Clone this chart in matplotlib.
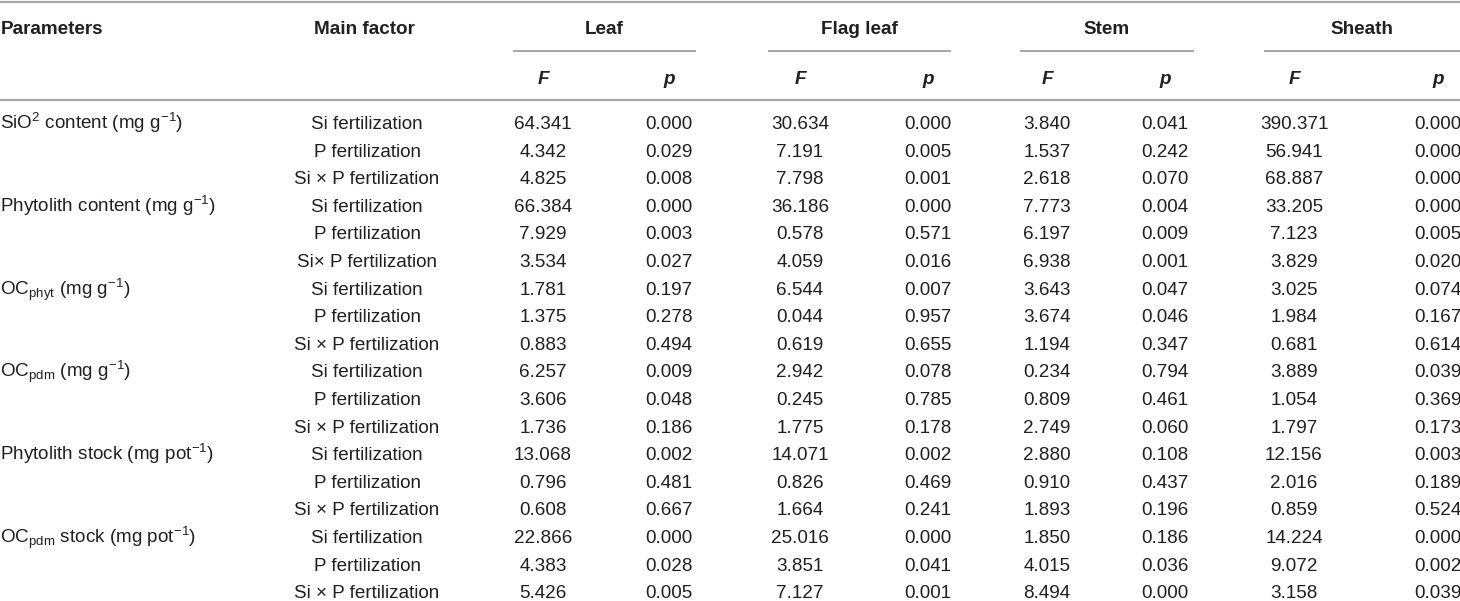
import matplotlib.pyplot as plt

plt.rcParams['font.family'] = ['Liberation Sans', 'DejaVu Sans']
plt.rcParams['mathtext.fontset'] = 'custom'
plt.rcParams['mathtext.rm'] = 'Liberation Sans'
plt.rcParams['mathtext.it'] = 'Liberation Sans:italic'
plt.rcParams['mathtext.bf'] = 'Liberation Sans:bold'

######################################## Table data ########################################
parameters = ["SiO$^{2}$ content (mg g$^{-1}$)",
              "Phytolith content (mg g$^{-1}$)",
              "OC$_{\\mathregular{phyt}}$ (mg g$^{-1}$)",
              "OC$_{\\mathregular{pdm}}$ (mg g$^{-1}$)",
              "Phytolith stock (mg pot$^{-1}$)",
              "OC$_{\\mathregular{pdm}}$ stock (mg pot$^{-1}$)"]

factors = ["Si fertilization", "P fertilization", "Si × P fertilization",
           "Si fertilization", "P fertilization", "Si× P fertilization",
           "Si fertilization", "P fertilization", "Si × P fertilization",
           "Si fertilization", "P fertilization", "Si × P fertilization",
           "Si fertilization", "P fertilization", "Si × P fertilization",
           "Si fertilization", "P fertilization", "Si × P fertilization"]

organs = ["Leaf", "Flag leaf", "Stem", "Sheath"]

leaf_F = [64.341, 4.342, 4.825, 66.384, 7.929, 3.534, 1.781, 1.375, 0.883,
          6.257, 3.606, 1.736, 13.068, 0.796, 0.608, 22.866, 4.383, 5.426]
leaf_p = [0.000, 0.029, 0.008, 0.000, 0.003, 0.027, 0.197, 0.278, 0.494,
          0.009, 0.048, 0.186, 0.002, 0.481, 0.667, 0.000, 0.028, 0.005]
flag_F = [30.634, 7.191, 7.798, 36.186, 0.578, 4.059, 6.544, 0.044, 0.619,
          2.942, 0.245, 1.775, 14.071, 0.826, 1.664, 25.016, 3.851, 7.127]
flag_p = [0.000, 0.005, 0.001, 0.000, 0.571, 0.016, 0.007, 0.957, 0.655,
          0.078, 0.785, 0.178, 0.002, 0.469, 0.241, 0.000, 0.041, 0.001]
stem_F = [3.840, 1.537, 2.618, 7.773, 6.197, 6.938, 3.643, 3.674, 1.194,
          0.234, 0.809, 2.749, 2.880, 0.910, 1.893, 1.850, 4.015, 8.494]
stem_p = [0.041, 0.242, 0.070, 0.004, 0.009, 0.001, 0.047, 0.046, 0.347,
          0.794, 0.461, 0.060, 0.108, 0.437, 0.196, 0.186, 0.036, 0.000]
sheath_F = [390.371, 56.941, 68.887, 33.205, 7.123, 3.829, 3.025, 1.984, 0.681,
            3.889, 1.054, 1.797, 12.156, 2.016, 0.859, 14.224, 9.072, 3.158]
sheath_p = [0.000, 0.000, 0.000, 0.000, 0.005, 0.020, 0.074, 0.167, 0.614,
            0.039, 0.369, 0.173, 0.003, 0.189, 0.524, 0.000, 0.002, 0.039]

organ_values = [(leaf_F, leaf_p), (flag_F, flag_p), (stem_F, stem_p), (sheath_F, sheath_p)]

######################################## Layout (pixels) ########################################
W, H = 1460, 601
TextColor = "#231f20"
RuleColor = "#a6a6a6"
FontSize = 13.6

x_param = 0.5
x_factor = 367
x_F = [543, 800, 1047, 1294]
x_p = [669, 928, 1165, 1438]
span = [(513, 696), (768, 951), (1020, 1194), (1264, 1460)]

y_head1 = 33.5    # baselines
y_span = 50.5
y_head2 = 84
y_rule = 100
y_row0 = 129
row_step = 27.6

fig = plt.figure(figsize=(W / 100, H / 100), dpi=100)
ax = fig.add_axes([0, 0, 1, 1])
ax.set_xlim(0, W)
ax.set_ylim(H, 0)
ax.axis("off")

# rules
ax.plot([0, W], [1.5, 1.5], color=RuleColor, lw=1.6, solid_capstyle="butt")
ax.plot([0, W], [y_rule, y_rule], color=RuleColor, lw=1.6, solid_capstyle="butt")
for x0, x1 in span:
    ax.plot([x0, x1], [y_span, y_span], color=RuleColor, lw=1.4, solid_capstyle="butt")

# header
ax.text(x_param, y_head1, "Parameters", fontsize=FontSize, fontweight="bold",
        color=TextColor, ha="left", va="baseline")
ax.text(x_factor - 3, y_head1, "Main factor", fontsize=FontSize, fontweight="bold",
        color=TextColor, ha="center", va="baseline")
for i, organ in enumerate(organs):
    xc = (span[i][0] + span[i][1]) / 2
    ax.text(xc, y_head1, organ, fontsize=FontSize, fontweight="bold",
            color=TextColor, ha="center", va="baseline")
    ax.text(x_F[i], y_head2, "F", fontsize=FontSize, fontweight="bold", fontstyle="italic",
            color=TextColor, ha="center", va="baseline")
    ax.text(x_p[i], y_head2, "p", fontsize=FontSize, fontweight="bold", fontstyle="italic",
            color=TextColor, ha="center", va="baseline")

# body
for r in range(len(factors)):
    y = y_row0 + r * row_step
    if r % 3 == 0:
        ax.text(x_param, y, parameters[r // 3], fontsize=FontSize, color=TextColor,
                ha="left", va="baseline")
    ax.text(x_factor, y, factors[r], fontsize=FontSize, color=TextColor,
            ha="center", va="baseline")
    for i, (Fv, pv) in enumerate(organ_values):
        ax.text(x_F[i], y, f"{Fv[r]:.3f}", fontsize=FontSize, color=TextColor,
                ha="center", va="baseline")
        ax.text(x_p[i], y, f"{pv[r]:.3f}", fontsize=FontSize, color=TextColor,
                ha="center", va="baseline")

fig.savefig("out.png", dpi=100)
